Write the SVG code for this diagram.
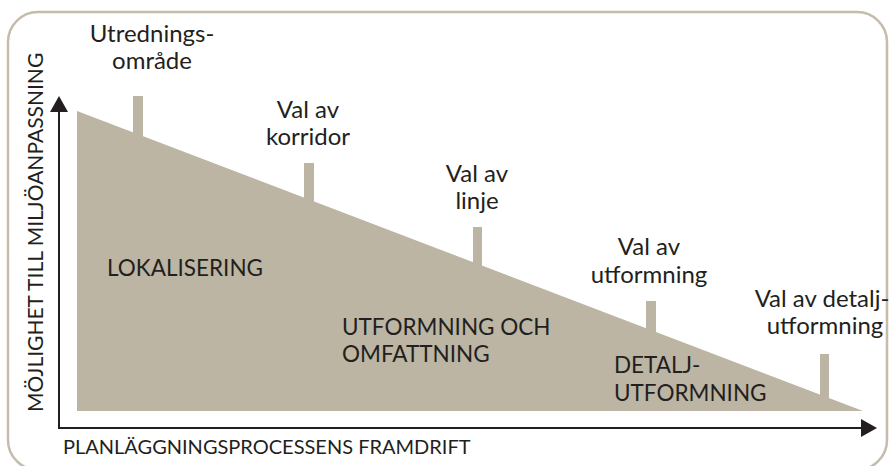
<svg xmlns="http://www.w3.org/2000/svg" width="890" height="466" viewBox="0 0 890 466">
<style>
.t{font-family:Lato,"Open Sans",sans-serif;fill:#231f20;font-size:24px}
.u{font-family:Lato,"Open Sans",sans-serif;fill:#231f20;font-size:22.5px}
.c{text-anchor:middle}
.ax{font-family:Lato,"Open Sans",sans-serif;fill:#231f20;font-size:20px}
.fill{fill:#bcb5a3}
.axis{stroke:#231f20;stroke-width:2;fill:none}
</style>
<rect x="8" y="12" width="879" height="458" rx="30" fill="#fff" stroke="#c5bdac" stroke-width="2.5"/>
<g id="area">
<polygon class="fill" points="77,111 863,411 77,411"/>
<rect class="fill" x="133" y="96" width="10" height="44"/>
<rect class="fill" x="304" y="163" width="10" height="44"/>
<rect class="fill" x="473" y="227" width="9" height="44"/>
<rect class="fill" x="646" y="301" width="10" height="44"/>
<rect class="fill" x="820" y="354" width="9" height="44"/>
</g>
<g id="connectors">
<line class="axis" x1="59" y1="110" x2="59" y2="428"/>
<line class="axis" x1="58" y1="428" x2="863" y2="428"/>
<polygon points="59,96 68,112 50,112" fill="#231f20"/>
<polygon points="877,428 861,419 861,437" fill="#231f20"/>
</g>
<g id="milestone1"><text class="t c" x="152" y="42">Utrednings-</text><text class="t c" x="152" y="69">område</text></g>
<g id="milestone2"><text class="t c" x="308" y="118">Val av</text><text class="t c" x="308" y="145">korridor</text></g>
<g id="milestone3"><text class="t c" x="477" y="182">Val av</text><text class="t c" x="477" y="209">linje</text></g>
<g id="milestone4"><text class="t c" x="649" y="255">Val av</text><text class="t c" x="649" y="283">utformning</text></g>
<g id="milestone5"><text class="t c" x="822" y="307">Val av detalj-</text><text class="t c" x="825" y="334">utformning</text></g>
<g id="phase1"><text class="u" x="107" y="276">LOKALISERING</text></g>
<g id="phase2"><text class="u" x="342" y="335">UTFORMNING OCH</text><text class="u" x="342" y="362">OMFATTNING</text></g>
<g id="phase3"><text class="u" x="614" y="373">DETALJ-</text><text class="u" x="614" y="401">UTFORMNING</text></g>
<g id="xlabel"><text class="ax" x="63" y="454">PLANLÄGGNINGSPROCESSENS FRAMDRIFT</text></g>
<g id="ylabel"><text class="ax" style="font-size:21px" transform="translate(43,412) rotate(-90)">MÖJLIGHET TILL MILJÖANPASSNING</text></g>
</svg>
